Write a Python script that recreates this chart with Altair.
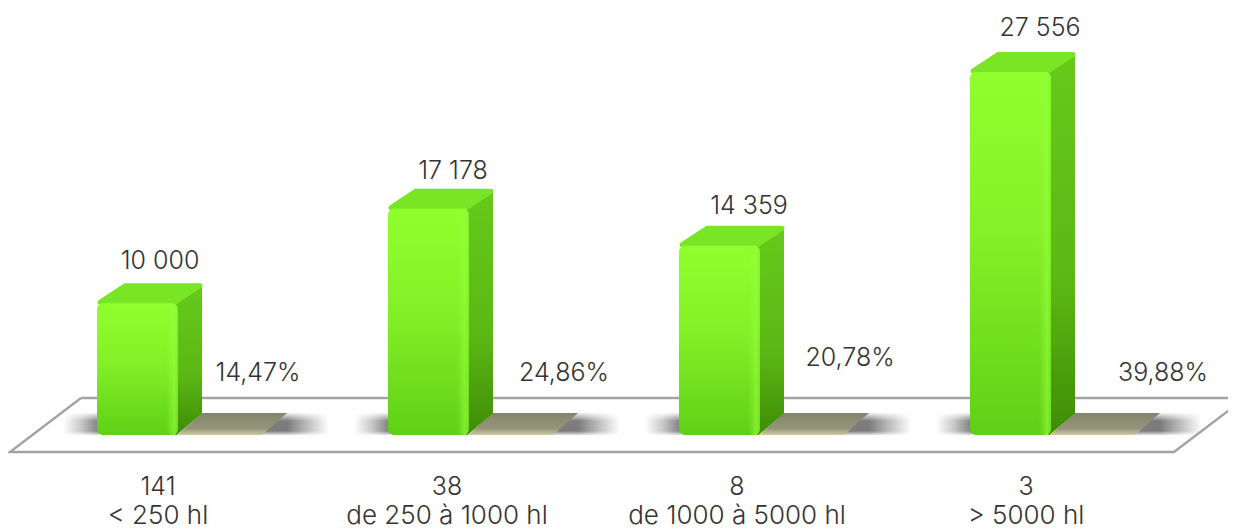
import altair as alt
import pandas as pd

# ---- chart values
volumes = [10000, 17178, 14359, 27556]
volume_labels = ["10 000", "17 178", "14 359", "27 556"]
shares = ["14,47%", "24,86%", "20,78%", "39,88%"]
counts = ["141", "38", "8", "3"]
classes = ["< 250 hl", "de 250 à 1000 hl", "de 1000 à 5000 hl", "> 5000 hl"]

# ---- layout, in reference pixels
W, H = 1220, 522
SLOT, LEFT0, BAR_W = 291.0, 97.0, 81.0
BASE_PX, PX_PER_UNIT = 435.0, 363.0 / 27556
DX, DY = 25.0, 20.0
bar_lefts = [LEFT0 + SLOT * i for i in range(4)]
vol_cx = [160, 453, 749, 1040]
vol_base = [269, 179, 214, 36]
pct_cx = [258, 564, 850, 1163]
pct_base = [381, 381, 366, 381]
cat_cx = [158, 447, 737, 1026]
FONT = "Inter"
TXT = "#333333"


def ux(px):  # reference px to slot units
    return (px - LEFT0) / SLOT


def uy(py):  # reference px to hl
    return (BASE_PX - py) / PX_PER_UNIT


xs = alt.Scale(domain=[ux(8), ux(8 + W)], nice=False, zero=False)
ys = alt.Scale(domain=[uy(8 + H), uy(8)], nice=False, zero=False)
X = alt.X("x:Q", scale=xs, axis=None)
Y = alt.Y("y:Q", scale=ys, axis=None)


def grad(stops, horizontal=False):
    s = [alt.GradientStop(offset=o, color=c) for o, c in stops]
    return alt.Gradient(gradient="linear", stops=s,
                        x1=0, x2=1 if horizontal else 0,
                        y1=0, y2=0 if horizontal else 1)


def rects(spans):
    return pd.DataFrame([
        dict(g=i, x=ux(a), x2=ux(b), y=uy(c), y2=uy(d))
        for i, (a, b, c, d) in enumerate(spans)])


def rect_layer(spans, fill, **kw):
    return alt.Chart(rects(spans)).mark_rect(fill=fill, **kw).encode(
        x=X, x2="x2:Q", y=Y, y2="y2:Q")


def para_layer(shapes, fill, **kw):
    """Parallelograms: (x_left_front, x_right_front, y_front, shift_x, shift_y)"""
    rows = []
    for g, (a, b, yf, sx, sy) in enumerate(shapes):
        yb = yf - sy
        for px, top, bot in [(a, yf, yf), (a + sx, yb, yf), (b, yb, yf), (b + sx, yb, yb)]:
            rows.append(dict(g=g, x=ux(px), y=uy(top), y2=uy(bot)))
    return alt.Chart(pd.DataFrame(rows)).mark_area(fill=fill, **kw).encode(
        x=X, y=Y, y2="y2:Q", detail="g:N")


# floor outline
fl = [(81, 398), (1245, 398), (1174, 452), (10, 452), (81, 398)]
floor = pd.DataFrame([dict(o=i, x=ux(a), y=uy(b)) for i, (a, b) in enumerate(fl)])
floor_layer = alt.Chart(floor).mark_line(color="#a3a3a3", strokeWidth=2.4).encode(
    x=X, y=Y, order="o:Q")

# floor shadows
shadow_l = rect_layer([(b - 34, b + 2, 413, 435) for b in bar_lefts],
                      grad([(0, "#ffffff"), (0.5, "#c8c8c8"), (1, "#7c7c7c")], True))
shadow_r = rect_layer([(b + 160, b + 232, 413, 435) for b in bar_lefts],
                      grad([(0, "#7c7c7c"), (0.42, "#7c7c7c"), (0.7, "#bdbdbd"), (1, "#ffffff")], True))
fade = rect_layer([(b - 35, b + 80, 412, 421) for b in bar_lefts] +
                  [(b + 160, b + 233, 412, 421) for b in bar_lefts],
                  grad([(0, "#ffffff"), (1, "rgba(255,255,255,0)")], False))
fade_low = rect_layer([(b - 35, b + 80, 431, 436) for b in bar_lefts] +
                      [(b + 160, b + 233, 431, 436) for b in bar_lefts],
                      grad([(0, "rgba(255,255,255,0)"), (1, "#ffffff")], False))
olive = para_layer([(b + 80, b + 165, 435, 25, 22) for b in bar_lefts],
                   grad([(0, "#85856c"), (0.7, "#94947a"), (1, "#cfcaa0")]))

# bars
side_rows = []
for g, (b, v) in enumerate(zip(bar_lefts, volumes)):
    top = BASE_PX - v * PX_PER_UNIT
    r = b + BAR_W - 2
    side_rows += [dict(g=g, x=ux(r), y=uy(top), y2=uy(BASE_PX - 1)),
                  dict(g=g, x=ux(r + DX), y=uy(top - DY + 3), y2=uy(BASE_PX - DY - 2))]
side_fill = grad([(0, "#66c91a"), (0.6, "#5bb814"), (1, "#3f8c05")])
side = alt.Chart(pd.DataFrame(side_rows)).mark_area(
    fill=side_fill, stroke=side_fill, strokeWidth=2, strokeJoin="round").encode(
    x=X, y=Y, y2="y2:Q", detail="g:N")

top_face = para_layer(
    [(b + 3, b + BAR_W - 3, BASE_PX - v * PX_PER_UNIT - 1, DX, DY - 3.5)
     for b, v in zip(bar_lefts, volumes)],
    "#78e625", stroke="#78e625", strokeWidth=5, strokeJoin="round")

front = pd.DataFrame([
    dict(x=ux(b), x2=ux(b + BAR_W), y=v, y2=0) for b, v in zip(bar_lefts, volumes)])
front_layer = alt.Chart(front).mark_bar(
    fill=grad([(0, "#90ff2e"), (0.45, "#84f026"), (1, "#5fd016")]),
    cornerRadius=6).encode(x=X, x2="x2:Q", y=alt.Y("y:Q", scale=ys, axis=None), y2="y2:Q")
strip = pd.DataFrame([
    dict(x=ux(b + BAR_W - 12), x2=ux(b + BAR_W), y=v, y2=0)
    for b, v in zip(bar_lefts, volumes)])
strip_layer = alt.Chart(strip).mark_bar(
    fill=grad([(0, "rgba(150,255,60,0)"), (0.7, "rgba(150,255,60,0.6)"), (1, "rgba(120,235,40,0.5)")], True),
    cornerRadius=6).encode(x=X, x2="x2:Q", y=alt.Y("y:Q", scale=ys, axis=None), y2="y2:Q")


def text_layer(labels, cx, base, size=25):
    df = pd.DataFrame({"t": labels, "x": [ux(c) for c in cx], "y": [uy(b) for b in base]})
    return alt.Chart(df).mark_text(
        font=FONT, fontSize=size, fontWeight=300, color=TXT,
        align="center", baseline="alphabetic").encode(x=X, y=Y, text="t:N")


chart = alt.layer(
    shadow_l, shadow_r, fade, fade_low, floor_layer, olive, side, top_face,
    front_layer, strip_layer,
    text_layer(volume_labels, vol_cx, vol_base),
    text_layer(shares, pct_cx, pct_base),
    text_layer(counts, cat_cx, [495] * 4),
    text_layer(classes, cat_cx, [524] * 4, size=26),
).properties(width=W, height=H, padding=0, background="white",
             autosize=alt.AutoSizeParams(type="none")
).configure_view(stroke=None)

chart.save("out.html", embed_options={"renderer": "svg", "actions": False})
